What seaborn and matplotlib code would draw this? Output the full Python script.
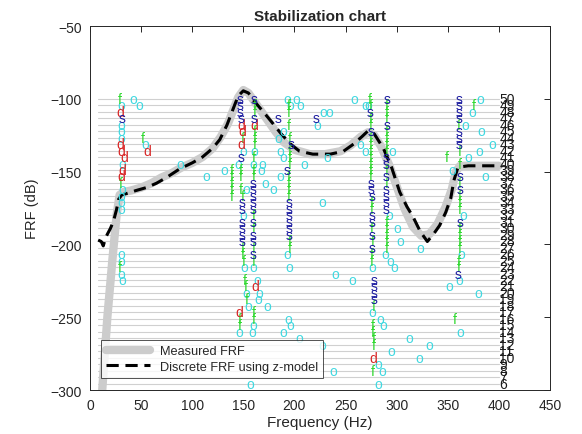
import numpy as np
import pandas as pd
import matplotlib
matplotlib.use("Agg")
import matplotlib.pyplot as plt
import seaborn as sns

# ---- FRF curves (frequency in Hz, magnitude in dB) ----
meas_freq = [12, 17, 22, 26, 29, 33, 40, 50, 60, 70, 80, 90, 100, 110, 120, 128,
             135, 140, 145, 150, 155, 160, 167, 175, 182, 190, 200, 215, 230, 245,
             255, 265, 272, 278, 285, 293, 300, 308, 316, 324, 332, 340, 348, 354,
             358, 362, 380, 400]
meas_db = [-300, -250, -210, -180, -166, -164, -163, -161, -158, -154, -151, -147,
           -144, -140, -134, -126, -117, -108, -99, -94, -96, -101, -108, -116,
           -123, -130, -135, -138, -138, -136, -132, -126, -123, -125, -133, -146,
           -160, -176, -188, -194, -193, -186, -174, -162, -150, -146, -146, -146]

disc_freq = [8, 11, 13, 15, 17, 20, 23, 26, 28, 31, 36, 45, 55, 65, 75, 88, 100,
             110, 120, 127, 134, 140, 145, 150, 155, 160, 166, 172, 179, 187, 196,
             205, 218, 235, 248, 258, 266, 272, 278, 287, 295, 303, 310, 316, 323,
             330, 336, 342, 348, 353, 356, 360, 370, 385, 400]
disc_db = [-197, -198, -201, -196, -193, -189, -184, -176, -169, -166, -165, -163,
           -161, -158, -154, -148, -144, -140, -134, -128, -118, -107, -98, -94.5,
           -96, -101, -106, -111, -117, -124, -131, -136, -138, -138, -136, -131,
           -126, -122, -124, -134, -147, -164, -174, -181, -191, -198, -193, -187,
           -178, -168, -156, -147, -146, -146, -146]

# ---- model orders shown on the chart ----
orders = list(range(6, 51))

# ---- pole symbols: frequency (Hz) and model order ----
o_freq = [31, 31, 31, 31, 32, 31.5, 30.5, 30.5, 30.5, 30.5, 31, 31, 32,
          54, 42, 48, 88, 114, 131,
          150, 150, 151, 153, 155, 146, 157, 145,
          161, 160, 169, 168, 160, 164, 166, 165, 173, 160, 159, 153, 171, 179,
          193, 202, 196, 206, 189, 184, 186, 189, 186, 193, 195, 194, 196, 189,
          205, 210, 232, 228, 234, 222, 259, 269, 227, 240, 257, 227, 238,
          272, 264, 269, 276, 276, 284, 287, 295, 282, 286, 282,
          296, 293, 289, 294, 298, 301, 304, 323,
          354, 365, 363, 361, 362, 382, 374, 367, 383, 394, 381, 370, 387, 351,
          380, 312, 332, 322]
o_order = [49, 46, 45, 44, 40, 36, 35, 34, 33, 26, 25, 23, 22,
           43, 50, 49, 40, 38, 39,
           42, 32, 24, 20, 18, 14, 6, 40,
           42, 40, 40, 39, 24, 22, 20, 19, 18, 15, 14, 36, 37, 36,
           50, 50, 49, 49, 45, 44, 42, 41, 38, 26, 24, 16, 15, 14,
           13, 40, 41, 48, 48, 46, 50, 49, 34, 23, 22, 12, 8,
           49, 43, 42, 24, 17, 16, 15, 11, 9, 8, 6,
           42, 32, 26, 25, 24, 30, 28, 27,
           39, 32, 26, 22, 14, 50, 48, 46, 45, 43, 42, 41, 38, 21,
           20, 13, 12, 10]

f_freq = [29.5, 30, 29.5, 52, 139, 139, 139, 139, 139,
          149, 148, 148, 148, 149, 149, 149, 150, 151, 152, 153, 147, 147,
          161, 161, 161, 161, 161, 160, 160, 160, 160, 160, 160, 160, 160, 160,
          194, 194, 194, 195, 195, 195, 195, 194, 194, 194, 194, 195, 195,
          274, 275, 275, 275, 275, 275, 275, 275, 275, 275, 275, 276, 276, 276,
          277, 278, 277, 277, 278, 278, 277, 276, 276,
          290, 290, 290, 290, 290, 290, 290, 290, 290, 290, 290, 290, 290, 290,
          361, 362, 349, 362, 362, 362, 362, 362, 362, 362, 362, 362, 361, 361,
          357, 375]
f_order = [50, 37, 24, 44, 39, 38, 37, 36, 35,
           44, 39, 38, 36, 35, 27, 26, 25, 22, 21, 19, 16, 15,
           49, 48, 45, 44, 43, 41, 39, 38, 32, 30, 27, 25, 17, 16,
           49, 48, 46, 44, 42, 41, 40, 38, 37, 36, 35, 28, 27,
           50, 49, 47, 46, 44, 43, 42, 41, 40, 39, 38, 34, 33, 30,
           28, 18, 15, 14, 13, 12, 8, 25, 26,
           49, 48, 47, 45, 44, 43, 42, 39, 37, 31, 30, 29, 28, 27,
           46, 42, 41, 40, 37, 35, 34, 33, 30, 29, 28, 27, 25, 24,
           16, 49]

d_freq = [30, 30, 31, 33.5, 32, 31, 56, 148, 149, 148, 146, 161, 162, 277]
d_order = [48, 43, 42, 41, 39, 38, 42, 46, 45, 43, 17, 46, 21, 10]

s_freq = [31,
          147, 147, 147, 148, 148, 149, 149, 149, 149, 149, 149,
          161, 161, 160, 160, 160, 160, 160, 160, 160, 160, 160,
          184, 197, 193, 195, 195, 195, 195, 195, 195, 221,
          274, 275, 275, 275, 276, 276, 276, 276, 276, 278, 278, 278, 278,
          291, 291, 290, 290, 290, 290, 290, 290, 290,
          361, 361, 361, 361, 361, 361, 361, 362, 362, 362, 360]
s_order = [47,
           50, 49, 48, 47, 41, 34, 33, 31, 30, 29, 28,
           50, 47, 37, 36, 35, 34, 33, 31, 29, 28, 26,
           47, 43, 39, 34, 33, 32, 31, 30, 29, 47,
           48, 45, 37, 36, 35, 32, 31, 29, 27, 22, 21, 20, 19,
           50, 46, 41, 40, 38, 36, 35, 34, 33,
           50, 49, 48, 47, 45, 44, 43, 38, 36, 31, 23]

title = "Stabilization chart"
x_label = "Frequency (Hz)"
y_label = "FRF (dB)"


def order_level(n):
    """Vertical position (dB) at which a model order is drawn."""
    return -300 + (np.asarray(n, dtype=float) - 5) * 200.0 / 45.0


sns.set_style("white")
plt.rcParams["font.family"] = ["Liberation Sans", "DejaVu Sans"]

fig = plt.figure(figsize=(5.82, 4.35), dpi=100)
ax = fig.add_axes([0.1546, 0.1011, 0.7904, 0.8368])

# horizontal reference line for every model order, with its label on the right
for n in orders:
    lv = order_level(n)
    ax.plot([8, 400], [lv, lv], color="#d0d0d0", lw=0.8, zorder=1)
    ax.text(400.5, lv, str(n), ha="left", va="center", fontsize=10,
            color="#1a1a1a", zorder=3)

meas = pd.DataFrame({"f": meas_freq, "db": meas_db})
disc = pd.DataFrame({"f": disc_freq, "db": disc_db})
sns.lineplot(data=meas, x="f", y="db", ax=ax, color="#cccccc", lw=6,
             label="Measured FRF", sort=False, zorder=2)
sns.lineplot(data=disc, x="f", y="db", ax=ax, color="black", lw=2.2,
             label="Discrete FRF using z-model", sort=False, zorder=4)
ax.lines[-1].set_dashes([4, 2.2])

symbol_sets = [
    ("o", o_freq, o_order, "#40d8e0"),
    ("f", f_freq, f_order, "#30d830"),
    ("d", d_freq, d_order, "#d82828"),
    ("s", s_freq, s_order, "#1c1ca0"),
]
for ch, fr, od, col in symbol_sets:
    for f, n in zip(fr, od):
        ax.text(f, float(order_level(n)), ch, color=col, ha="center",
                va="center", fontsize=10, zorder=5)

ax.set_xlim(0, 450)
ax.set_ylim(-300, -50)
ax.set_xticks(np.arange(0, 451, 50))
ax.set_yticks(np.arange(-300, -49, 50))
ax.tick_params(direction="in", length=4, width=0.7, top=True, right=True,
               labelsize=10, colors="#262626", pad=6)
for sp in ax.spines.values():
    sp.set_color("#262626")
    sp.set_linewidth(0.7)
    sp.set_visible(True)

ax.set_xlabel(x_label, fontsize=11, color="#262626", labelpad=2)
ax.set_ylabel(y_label, fontsize=10.5, color="#262626", labelpad=8)
ax.set_title(title, fontsize=11, fontweight="bold", pad=4)

leg = ax.legend(loc="lower left", bbox_to_anchor=(0.024, 0.033), fontsize=9.2,
                frameon=True, fancybox=False, edgecolor="#262626",
                handlelength=3.4, borderpad=0.4, labelspacing=0.3,
                borderaxespad=0)
leg.get_frame().set_linewidth(0.7)
leg.set_zorder(10)

fig.savefig("out.png", dpi=100)
